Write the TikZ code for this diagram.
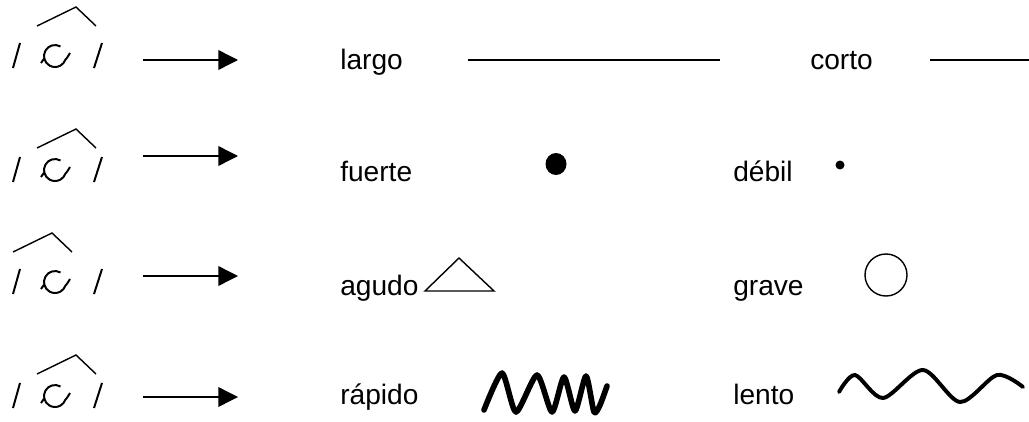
\documentclass[tikz,border=0pt]{standalone}
\usepackage{fontspec}
\setmainfont{Liberation Sans}
\usetikzlibrary{arrows.meta,positioning,calc}

\begin{document}
\begin{tikzpicture}[x=0.025cm, y=-0.025cm,
    word/.style={anchor=base west, inner sep=0pt, font=\fontsize{20}{24}\selectfont},
    stroke/.style={line width=1pt},
    glyph/.style={line width=1.4pt},
    arrow/.style={-{Triangle[length=14pt,width=14pt]}, line width=1pt},
    ink/.style={line width=4pt, line cap=round, line join=round},
    wave/.style={line width=2.8pt, line cap=round}
]
\useasboundingbox (0,0) rectangle (1029,421);

% syllable marks and arrows
\foreach \r/\cy/\hy/\hx/\ay in {1/56/26/0/60, 2/170/148/0/156, 3/282/252/-24/276, 4/396/374/0/397} {
  \draw[glyph] (13,\cy+12) -- (20,\cy-13);
  \draw[glyph] (94,\cy+12) -- (102,\cy-13);
  \draw[glyph] (60.5,\cy-9.5) arc[start angle=300, end angle=20, radius=11]
     .. controls (67,\cy+2) .. (70,\cy-3);
  \draw[glyph] (44.5,\cy+2) -- (41,\cy+7);
  \draw[stroke] (37+\hx,\hy) -- (76+\hx,\hy-19) -- (96+\hx,\hy);
  \coordinate (a\r) at (143,\ay);
  \coordinate (b\r) at (238,\ay);
  \draw[arrow] (a\r) -- (b\r);
}

% length
\node[word] (largo) at (340,69) {largo};
\coordinate (long1) at (468,60);
\coordinate (long2) at (720,60);
\draw[stroke] (long1) -- (long2);
\node[word] (corto) at (810,69) {corto};
\coordinate (short1) at (930,60);
\coordinate (short2) at (1029,60);
\draw[stroke] (short1) -- (short2);

% intensity
\node[word] (fuerte) at (340,181) {fuerte};
\fill (556,164) ellipse (10.5 and 11);
\node[word] (debil) at (733,181) {débil};
\fill (840,165) circle (4.5);

% pitch
\node[word] (agudo) at (340,295) {agudo};
\draw[stroke] (425,291) -- (459,258) -- (494,291) -- cycle;
\node[word] (grave) at (733,295) {grave};
\draw[stroke] (886,275) circle (21);

% speed
\node[word] (rapido) at (340,404) {rápido};
\draw[ink] plot[smooth, tension=0.4] coordinates {(484,410) (502,373) (516,412) (537,375)
    (552,412) (564,377) (575,411) (586,376) (594,412) (600,405) (607,386)};
\node[word] (lento) at (733,404) {lento};
\draw[wave] plot[smooth] coordinates {(839,392) (855,375) (883,398) (923,370) (960,402)
    (997,375) (1023,387)};

\end{tikzpicture}
\end{document}
